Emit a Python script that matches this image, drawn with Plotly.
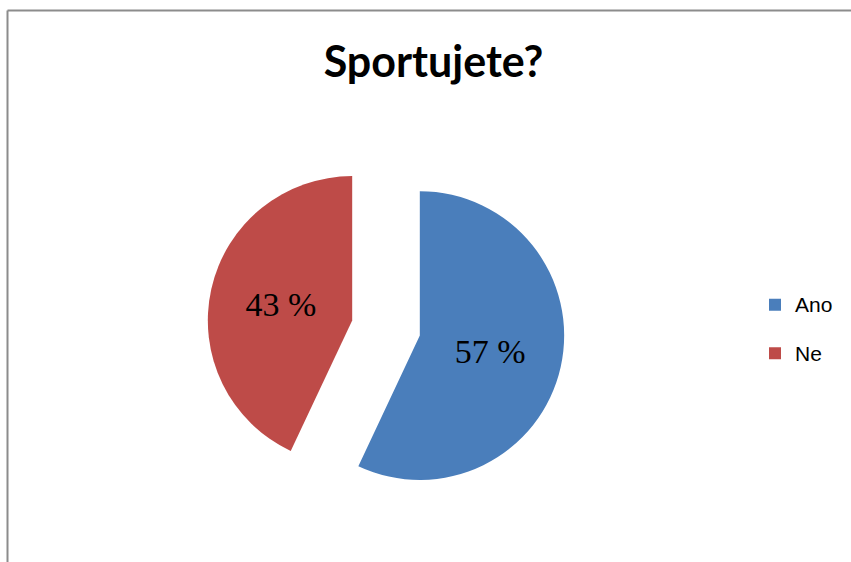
import plotly.graph_objects as go

categories = ["Ano", "Ne"]
values = [57, 43]
colors = ["#4A7EBB", "#BE4B48"]
title_text = "Sportujete?"
slice_text = [f"{v} %" for v in values]
legend_labels = [f'<span style="font-size:21px;baseline-shift:6px">{c}</span>' for c in categories]

W, H = 851, 562
cx, cy = 386, 328
half = 179

fig = go.Figure(go.Pie(
    labels=legend_labels,
    values=values,
    text=slice_text,
    textinfo="text",
    textposition="inside",
    insidetextorientation="horizontal",
    textfont=dict(family="Liberation Serif", size=34, color="black"),
    marker=dict(colors=colors, line=dict(width=0)),
    sort=False,
    direction="clockwise",
    rotation=0,
    pull=[0.24, 0.24],
    hoverinfo="percent",
    domain=dict(x=[(cx - half) / W, (cx + half) / W],
                y=[(H - cy - half) / H, (H - cy + half) / H]),
))

fig.update_layout(
    width=W, height=H,
    margin=dict(l=0, r=0, t=0, b=0),
    paper_bgcolor="white",
    title=dict(text="<b>" + title_text + "</b>", x=433.5 / W, y=1 - 62 / H,
               xanchor="center", yanchor="middle",
               font=dict(family="Lato", size=43, color="black")),
    showlegend=True,
    legend=dict(x=755 / W, y=1 - 329 / H, xanchor="left", yanchor="middle",
                font=dict(family="Liberation Sans", size=35, color="black"),
                bgcolor="rgba(0,0,0,0)"),
    shapes=[
        dict(type="line", xref="paper", yref="paper",
             x0=7.5 / W, x1=1.05, y0=1 - 10.5 / H, y1=1 - 10.5 / H,
             line=dict(color="#8C8C8C", width=2)),
        dict(type="line", xref="paper", yref="paper",
             x0=7.5 / W, x1=7.5 / W, y0=1 - 10.5 / H, y1=-0.05,
             line=dict(color="#8C8C8C", width=2)),
    ],
)

fig.write_html("out.html",
               config={"displayModeBar": False},
               post_script="document.body.style.margin='0';document.body.style.overflow='hidden';")
